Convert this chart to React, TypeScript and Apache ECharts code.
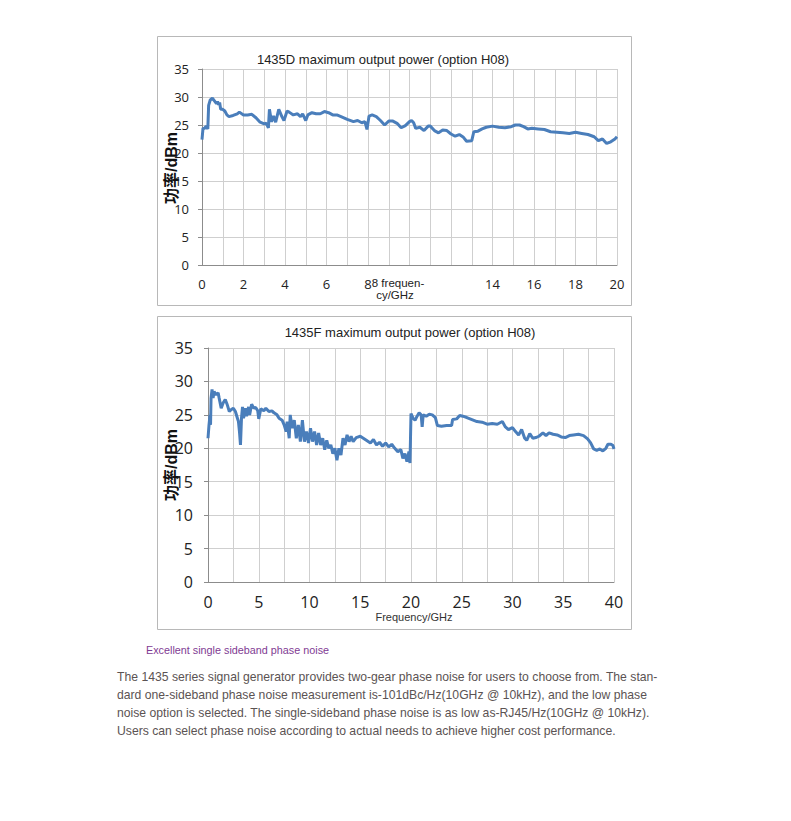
import React, { useEffect, useRef } from "react";
import * as echarts from "echarts";

// ---- 1435D (0–20 GHz) ----
const D_FREQ = [
  0, 0.05, 0.1, 0.2, 0.28, 0.32, 0.4, 0.5, 0.6, 0.7,
  0.75, 0.8, 0.85, 0.9, 1.0, 1.1, 1.2, 1.3, 1.5, 1.7,
  1.8, 2.0, 2.2, 2.4, 2.6, 2.8, 3.0, 3.1, 3.2, 3.25,
  3.35, 3.45, 3.55, 3.7, 3.85, 3.95, 4.1, 4.2, 4.4, 4.6,
  4.75, 4.85, 5.0, 5.1, 5.3, 5.5, 5.7, 5.9, 6.1, 6.3,
  6.5, 6.7, 7.0, 7.3, 7.5, 7.7, 7.85, 7.95, 8.05, 8.2,
  8.4, 8.6, 8.8, 9.0, 9.2, 9.4, 9.6, 9.8, 10.0, 10.1,
  10.2, 10.3, 10.5, 10.7, 10.9, 11.0, 11.2, 11.4, 11.6, 11.8,
  12.0, 12.2, 12.4, 12.6, 12.75, 13.0, 13.1, 13.3, 13.5, 13.7,
  14.0, 14.3, 14.6, 14.9, 15.1, 15.3, 15.5, 15.7, 15.9, 16.2,
  16.5, 16.8, 17.1, 17.4, 17.7, 18.0, 18.3, 18.6, 18.9, 19.1,
  19.3, 19.5, 19.7, 19.9, 20.0,
];
const D_POWER = [
  22.4, 24.5, 24.3, 24.8, 24.3, 28.5, 29.5, 29.8, 29.3, 28.8,
  29.2, 28.6, 29.0, 27.8, 27.8, 27.5, 26.8, 26.5, 26.7, 27.0,
  27.3, 26.8, 26.8, 26.9, 26.3, 25.5, 25.2, 25.3, 24.5, 27.8,
  25.6, 26.6, 25.5, 27.8, 26.5, 25.8, 27.5, 27.3, 26.8, 27.0,
  26.5, 27.0, 25.8, 26.8, 27.2, 27.0, 27.0, 27.4, 27.2, 26.8,
  26.8, 26.5, 26.0, 25.6, 25.8, 25.4, 25.6, 24.2, 26.6, 26.8,
  26.5, 25.8, 25.0, 25.7, 25.7, 25.3, 24.5, 24.9, 25.6, 25.8,
  25.4, 24.4, 24.6, 24.0, 24.8, 24.8, 24.0, 23.6, 24.1, 24.0,
  23.4, 23.0, 23.3, 22.8, 22.1, 22.2, 23.8, 23.9, 24.3, 24.6,
  24.8, 24.6, 24.5, 24.7, 25.0, 25.0, 24.7, 24.3, 24.4, 24.3,
  24.2, 23.8, 23.7, 23.6, 23.5, 23.7, 23.5, 23.3, 22.9, 22.2,
  22.5, 21.7, 22.0, 22.5, 22.9,
];

// ---- 1435F (0–40 GHz) ----
const F_FREQ = [
  0, 0.1, 0.2, 0.25, 0.3, 0.4, 0.5, 0.6, 0.8, 1.0,
  1.1, 1.3, 1.5, 1.7, 1.9, 2.1, 2.3, 2.5, 2.7, 2.9,
  3.0, 3.1, 3.2, 3.3, 3.4, 3.5, 3.7, 3.8, 4.0, 4.1,
  4.3, 4.5, 4.7, 4.9, 5.0, 5.2, 5.5, 5.7, 6.0, 6.3,
  6.5, 6.8, 7.0, 7.3, 7.5, 7.7, 7.8, 8.0, 8.1, 8.3,
  8.5, 8.7, 8.9, 9.1, 9.3, 9.5, 9.7, 9.9, 10.1, 10.3,
  10.5, 10.7, 10.9, 11.1, 11.3, 11.5, 11.7, 11.9, 12.1, 12.3,
  12.5, 12.7, 12.9, 13.1, 13.3, 13.5, 13.7, 13.9, 14.1, 14.3,
  14.6, 15.0, 15.3, 15.6, 16.0, 16.3, 16.6, 16.9, 17.2, 17.5,
  17.8, 18.1, 18.4, 18.7, 19.0, 19.2, 19.4, 19.6, 19.8, 19.9,
  20.0, 20.2, 20.4, 20.6, 20.8, 21.0, 21.1, 21.2, 21.5, 21.8,
  22.1, 22.4, 22.6, 23.0, 23.5, 24.0, 24.1, 24.5, 24.8, 25.1,
  25.5, 26.0, 26.5, 27.0, 27.5, 28.0, 28.5, 29.0, 29.3, 29.6,
  30.0, 30.3, 30.6, 30.9, 31.2, 31.4, 31.7, 32.0, 32.3, 32.6,
  33.0, 33.3, 33.6, 34.0, 34.4, 34.8, 35.2, 35.6, 36.0, 36.5,
  37.0, 37.4, 37.7, 38.0, 38.3, 38.6, 38.9, 39.2, 39.4, 39.7,
  39.9, 40.0,
];
const F_POWER = [
  21.5, 23.5, 25.0, 23.5, 27.5, 28.8, 27.5, 28.5, 28.0, 28.3,
  27.5, 26.0, 26.8, 27.3, 26.5, 25.5, 25.8, 26.0, 25.5, 24.5,
  24.0, 22.5, 20.5, 24.5, 26.2, 24.5, 26.0, 24.8, 26.2, 25.0,
  26.6, 26.0, 26.1, 25.6, 24.4, 25.9, 25.6, 26.0, 25.5, 25.6,
  25.3, 25.0, 24.5, 24.2, 23.5, 22.5, 24.0, 21.5, 25.0, 23.0,
  24.2, 21.5, 23.5, 21.0, 24.2, 21.0, 22.5, 20.8, 23.0, 21.0,
  22.5, 20.5, 22.3, 20.5, 21.5, 19.8, 21.2, 20.0, 20.5, 19.2,
  20.0, 18.2, 20.0, 19.0, 21.5, 20.5, 22.0, 21.0, 21.8, 21.0,
  21.6, 21.8, 21.5, 21.2, 20.8, 21.3, 20.5, 20.9, 20.3, 20.8,
  20.2, 20.6, 20.0, 19.5, 19.8, 18.5, 19.2, 18.0, 19.5, 17.8,
  25.2, 24.5, 24.2, 24.8, 25.3, 25.0, 23.2, 25.0, 24.8, 25.1,
  25.0, 24.6, 23.4, 23.3, 23.4, 23.4, 24.3, 24.4, 24.9, 24.8,
  24.6, 24.3, 24.0, 23.9, 23.6, 23.7, 23.6, 24.0, 23.2, 22.8,
  23.1, 22.5, 22.0, 22.8, 21.5, 21.2, 22.2, 21.5, 21.6, 21.8,
  22.3, 21.9, 22.3, 22.1, 22.0, 21.7, 21.6, 21.9, 22.0, 22.1,
  21.9, 21.4, 20.8, 19.9, 19.7, 19.9, 19.6, 20.0, 20.6, 20.6,
  20.4, 19.9,
];

const TOP_X_SHOWN = [0, 2, 4, 6, 8, 14, 16, 18, 20];

const TITLE_D = "1435D maximum output power (option H08)";
const TITLE_F = "1435F maximum output power (option H08)";
const Y_NAME = "功率/dBm";
const X_NAME_D = ["8 frequen-", "cy/GHz"];
const X_NAME_F = "Frequency/GHz";
const HEADING = "Excellent single sideband phase noise";
const PARAGRAPH = [
  "The 1435 series signal generator provides two-gear phase noise for users to choose from. The stan-",
  "dard one-sideband phase noise measurement is-101dBc/Hz(10GHz @ 10kHz), and the low phase",
  "noise option is selected. The single-sideband phase noise is as low as-RJ45/Hz(10GHz @ 10kHz).",
  "Users can select phase noise according to actual needs to achieve higher cost performance.",
];

function zip(xs: number[], ys: number[]) {
  const n = Math.min(xs.length, ys.length);
  const out: number[][] = [];
  for (let i = 0; i < n; i++) out.push([xs[i], ys[i]]);
  return out;
}

const LINE_COLOR = "#4a7ebb";
const GRID_COLOR = "#cfcfcf";
const AXIS_COLOR = "#8c8c8c";
const NUM_FONT = "Open Sans";
const TXT_FONT = "Liberation Sans";

export default function App() {
  const ref = useRef<HTMLDivElement>(null);
  useEffect(() => {
    if (!ref.current) return;
    const chart = echarts.init(ref.current, undefined, { renderer: "svg" });

    const axisLine = { show: true, lineStyle: { color: AXIS_COLOR, width: 1 } };
    const axisTick = { show: true, length: 4, lineStyle: { color: AXIS_COLOR } };
    const splitLine = { show: true, lineStyle: { color: GRID_COLOR, width: 1 } };

    const paraText = PARAGRAPH.map((t, i) => ({
      type: "text",
      x: 117,
      y: 677 + i * 18,
      style: { text: t, fill: "#5b5353", font: `12.2px "${TXT_FONT}"`, verticalAlign: "middle" },
    }));

    chart.setOption({
      animation: false,
      backgroundColor: "#ffffff",
      grid: [
        { left: 202, top: 69, width: 415, height: 196, containLabel: false },
        { left: 208, top: 348, width: 406, height: 234, containLabel: false },
      ],
      xAxis: [
        {
          gridIndex: 0, type: "value", min: 0, max: 20, interval: 1,
          axisLine, axisTick: { ...axisTick, show: false }, splitLine,
          axisLabel: {
            margin: 12, fontSize: 13, color: "#222", fontFamily: NUM_FONT,
            formatter: (v: number) => (TOP_X_SHOWN.indexOf(v) >= 0 ? String(v) : ""),
          },
        },
        {
          gridIndex: 1, type: "value", min: 0, max: 40, interval: 2.5,
          axisLine, axisTick: { ...axisTick, show: false }, splitLine,
          axisLabel: {
            margin: 12, fontSize: 16, color: "#222", fontFamily: NUM_FONT,
            formatter: (v: number) => (v % 5 === 0 ? String(v) : ""),
          },
        },
      ],
      yAxis: [
        {
          gridIndex: 0, type: "value", min: 0, max: 35, interval: 5,
          axisLine, axisTick, splitLine,
          axisLabel: { margin: 13, fontSize: 13, color: "#222", fontFamily: NUM_FONT },
        },
        {
          gridIndex: 1, type: "value", min: 0, max: 35, interval: 5,
          axisLine, axisTick, splitLine,
          axisLabel: { margin: 15, fontSize: 16, color: "#222", fontFamily: NUM_FONT },
        },
      ],
      series: [
        {
          type: "line", xAxisIndex: 0, yAxisIndex: 0, data: zip(D_FREQ, D_POWER),
          showSymbol: false, symbol: "none",
          lineStyle: { color: LINE_COLOR, width: 3 }, itemStyle: { color: LINE_COLOR },
        },
        {
          type: "line", xAxisIndex: 1, yAxisIndex: 1, data: zip(F_FREQ, F_POWER),
          showSymbol: false, symbol: "none",
          lineStyle: { color: LINE_COLOR, width: 3 }, itemStyle: { color: LINE_COLOR },
        },
      ],
      graphic: [
        {
          type: "rect", shape: { x: 157.5, y: 36.5, width: 474, height: 269 },
          style: { fill: "none", stroke: "#b8b8b8", lineWidth: 1 }, silent: true,
        },
        {
          type: "rect", shape: { x: 157.5, y: 316.5, width: 474, height: 313 },
          style: { fill: "none", stroke: "#b8b8b8", lineWidth: 1 }, silent: true,
        },
        {
          type: "text", x: 383, y: 59,
          style: { text: TITLE_D, fill: "#222", font: `13px "${TXT_FONT}"`, align: "center", verticalAlign: "middle" },
        },
        {
          type: "text", x: 410, y: 332,
          style: { text: TITLE_F, fill: "#222", font: `13px "${TXT_FONT}"`, align: "center", verticalAlign: "middle" },
        },
        {
          type: "text", x: 171, y: 168, rotation: Math.PI / 2,
          style: { text: Y_NAME, fill: "#111", font: `bold 16px "${TXT_FONT}", "Noto Sans CJK SC"`, align: "center", verticalAlign: "middle" },
        },
        {
          type: "text", x: 171, y: 465, rotation: Math.PI / 2,
          style: { text: Y_NAME, fill: "#111", font: `bold 16px "${TXT_FONT}", "Noto Sans CJK SC"`, align: "center", verticalAlign: "middle" },
        },
        {
          type: "text", x: 398, y: 283,
          style: { text: X_NAME_D[0], fill: "#222", font: `11.5px "${TXT_FONT}"`, align: "center", verticalAlign: "middle" },
        },
        {
          type: "text", x: 395, y: 295,
          style: { text: X_NAME_D[1], fill: "#222", font: `11.5px "${TXT_FONT}"`, align: "center", verticalAlign: "middle" },
        },
        {
          type: "text", x: 414, y: 617,
          style: { text: X_NAME_F, fill: "#333", font: `11px "${TXT_FONT}"`, align: "center", verticalAlign: "middle" },
        },
        {
          type: "text", x: 146, y: 650,
          style: { text: HEADING, fill: "#7f3b93", font: `10.8px "${TXT_FONT}"`, verticalAlign: "middle" },
        },
        ...paraText,
      ],
    });
    return () => chart.dispose();
  }, []);
  return (
    <div
      ref={ref}
      style={{ position: "absolute", left: 0, top: 0, width: 791, height: 821, background: "#fff" }}
    />
  );
}
